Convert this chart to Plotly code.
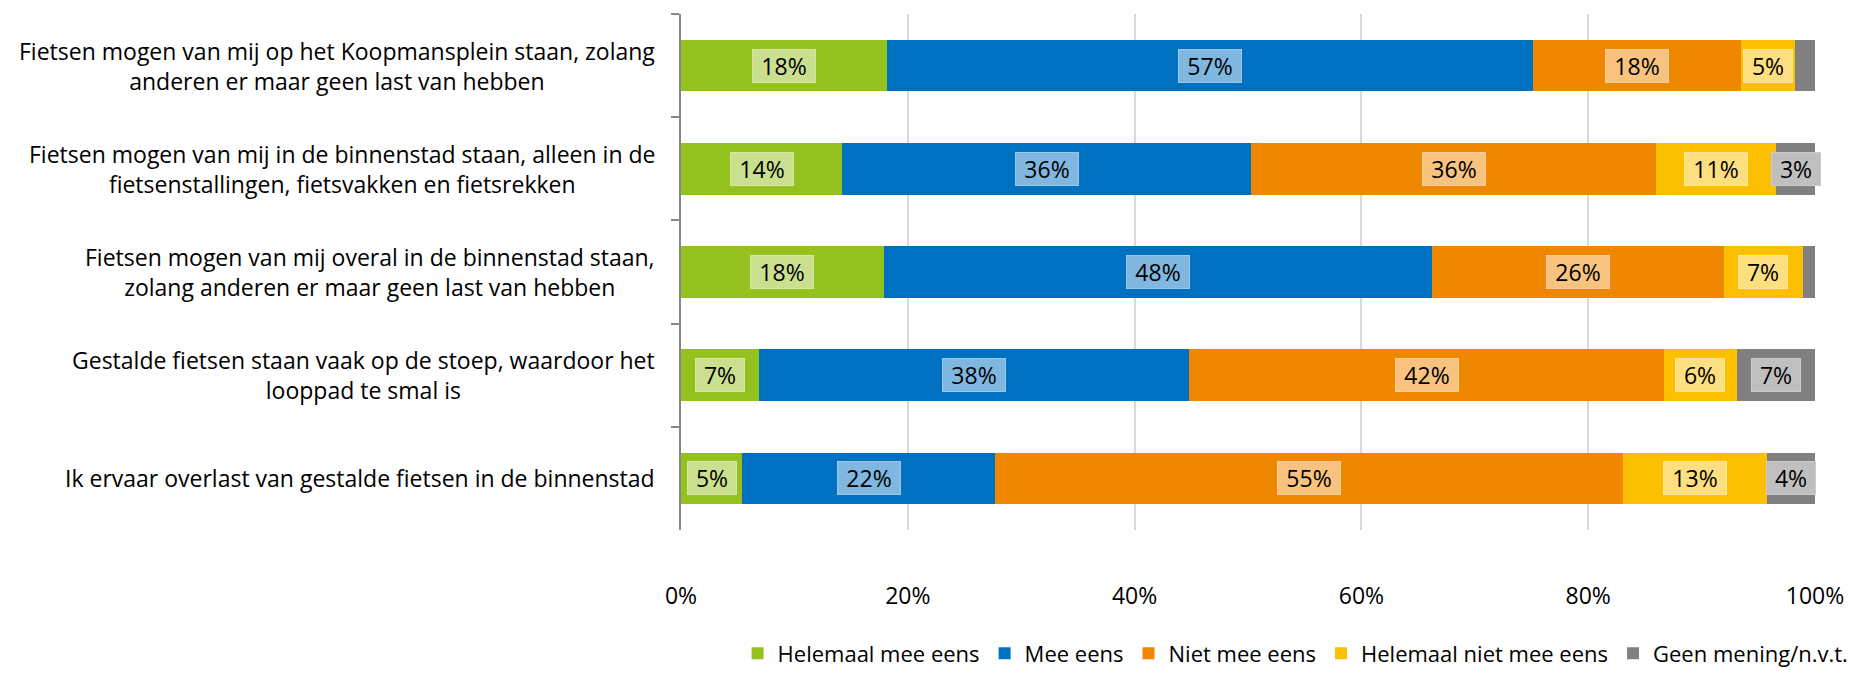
import plotly.graph_objects as go

categories = [
    "Fietsen mogen van mij op het Koopmansplein staan, zolang<br>anderen er maar geen last van hebben",
    "Fietsen mogen van mij in de binnenstad staan, alleen in de<br>fietsenstallingen, fietsvakken en fietsrekken",
    "Fietsen mogen van mij overal in de binnenstad staan,<br>zolang anderen er maar geen last van hebben",
    "Gestalde fietsen staan vaak op de stoep, waardoor het<br>looppad te smal is",
    "Ik ervaar overlast van gestalde fietsen in de binnenstad",
]
series_names = ["Helemaal mee eens", "Mee eens", "Niet mee eens", "Helemaal niet mee eens", "Geen mening/n.v.t."]
helemaal_mee_eens = [18.2, 14.2, 17.9, 6.9, 5.4]
mee_eens = [56.9, 36.1, 48.3, 37.9, 22.3]
niet_mee_eens = [18.4, 35.7, 25.8, 41.9, 55.4]
helemaal_niet_mee_eens = [4.7, 10.6, 6.9, 6.4, 12.7]
geen_mening = [1.8, 3.4, 1.1, 6.9, 4.2]
x_ticks = [0, 20, 40, 60, 80, 100]
x_tick_labels = ["0%", "20%", "40%", "60%", "80%", "100%"]

series_values = [helemaal_mee_eens, mee_eens, niet_mee_eens, helemaal_niet_mee_eens, geen_mening]
colors = ["#95C11F", "#0070C0", "#F08700", "#FCC000", "#808080"]
label_bg = ["#CAE08F", "#7FB7E0", "#F7C37F", "#FDDF7F", "#BFBFBF"]
label_border = ["#D6E8A8", "#9CC8E8", "#F9D09C", "#FEE79C", "#CCCCCC"]

FONT = "Open Sans"
FS = 23

fig = go.Figure()
for name, vals, col in zip(series_names, series_values, colors):
    fig.add_trace(go.Bar(
        y=categories, x=vals, name=name, orientation="h",
        marker=dict(color=col, line=dict(width=0)),
        hoverinfo="skip",
    ))

annotations = []
for ci, cat in enumerate(categories):
    cum = 0
    for si, vals in enumerate(series_values):
        v = vals[ci]
        if v >= 2:
            txt = f"{round(v):.0f}%"
            annotations.append(dict(
                x=cum + v / 2, y=cat, xref="x", yref="y",
                text=txt, showarrow=False,
                font=dict(family=FONT, size=FS, color="#000000"),
                bgcolor=label_bg[si], bordercolor=label_border[si], borderwidth=1,
                borderpad=2, width=58 if len(txt) == 3 else 44, height=28,
            ))
        cum += v
    annotations.append(dict(
        x=0, y=cat, xref="paper", yref="y", xanchor="right", yanchor="middle",
        xshift=-24, text=cat, showarrow=False, align="center",
        font=dict(family=FONT, size=FS, color="#000000"),
    ))

fig.update_layout(
    width=1866, height=687,
    barmode="stack", bargap=0.5,
    paper_bgcolor="white", plot_bgcolor="white",
    margin=dict(l=681, r=51, t=14, b=149),
    font=dict(family=FONT, size=FS, color="#000000"),
    annotations=annotations,
    showlegend=True,
    legend=dict(
        orientation="h", xref="paper", yref="paper",
        x=1.034, xanchor="right", y=-0.28, yanchor="bottom",
        font=dict(family=FONT, size=22), traceorder="normal",
        itemwidth=30, tracegroupgap=0,
    ),
    xaxis=dict(
        range=[0, 100], tickvals=x_ticks, ticktext=x_tick_labels,
        showgrid=True, gridcolor="#D9D9D9", gridwidth=2,
        zeroline=False, showline=False, ticks="",
        ticklabelstandoff=50,
        tickfont=dict(family=FONT, size=FS),
    ),
    yaxis=dict(
        autorange="reversed", showticklabels=False,
        showline=True, linecolor="#868686", linewidth=2,
        ticks="outside", ticklen=8, tickcolor="#868686", tickwidth=2,
        tickson="boundaries", showgrid=False,
    ),
)

fig.write_html("out.html", config={"displayModeBar": False},
               post_script="document.body.style.margin='0';")
